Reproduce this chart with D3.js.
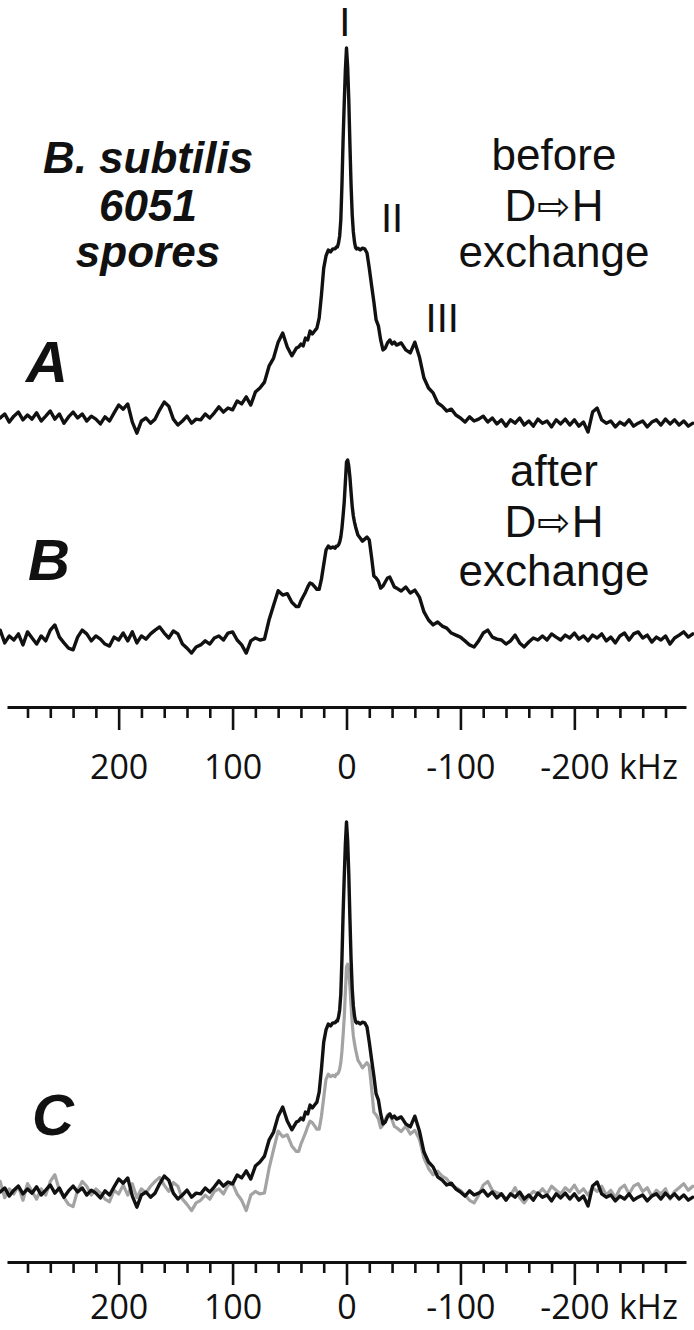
<!DOCTYPE html>
<html><head><meta charset="utf-8">
<script src="https://cdn.jsdelivr.net/npm/d3@7"></script>
<style>html,body{margin:0;padding:0;background:#fff;} svg{display:block;}</style>
</head><body>
<svg id="chart" width="694" height="1330"></svg>
<script>
// ---- data (kHz sampling positions and intensities) ----
const freq = [304,300,296,292,288,284,280,276,272,268,264,260,256,252,248,244,240,236,232,228,
  224,220,216,212,208,204,200,196,192,188,184,180,176,172,168,164,160,156,152,148,
  144,140,136,132,128,124,120,116,112,108,104,100,96,92,88,84,80,76,72,68,
  64,60,56,52,48,44,
  42,40,38,36,34,32,30,28,26,24,22,20,18,16,14,12,
  10,9,8,7,6,5,4,3,2,1,0,-1,-2,-3,-4,-5,-6,-7,-8,-9,-10,
  -12,-14,-16,-18,-20,-22,-24,-26,-28,-30,-32,-34,-36,-38,-40,-42,
  -44,-48,-52,-56,-60,-64,-68,-72,-76,-80,-84,-88,-92,-96,-100,-104,-108,-112,-116,-120,
  -124,-128,-132,-136,-140,-144,-148,-152,-156,-160,-164,-168,-172,-176,-180,-184,-188,-192,-196,-200,
  -204,-208,-212,-216,-220,-224,-228,-232,-236,-240,-244,-248,-252,-256,-260,-264,-268,-272,-276,-280,
  -284,-288,-292,-296,-300,-304];

// spectrum before D->H exchange (peak I = 100)
const intBefore = [0,1.1,-1.1,0.5,1.6,-0.5,0.8,-0.3,1.4,-0.8,0.5,1.9,-0.3,1.1,-1.4,0.3,1.6,0,1.1,-0.8,
  0.5,-0.3,-1.6,0.3,-0.8,1.4,3.5,2.4,3.8,-1.1,-4.1,-0.8,0,-1.4,-0.3,2.2,4.3,3.2,-0.3,-1.9,
  -0.8,0.5,-1.4,-0.3,-0.5,1.1,0,1.4,3,1.6,2.7,2.2,4.6,3.8,5.7,3.5,7,8.1,9.7,14,
  16.2,20.5,23,19.2,16.8,18.9,
  19.2,20,19.5,21.6,21.1,23.5,22.7,23.5,24.3,27,33.2,40.5,43.8,45.4,44.9,45.7,
  45.7,46.2,46.2,47.3,49.2,53.5,63,75,85,94,100,95,86,74,63,55,50.3,47.6,46,45.7,45.9,
  45.4,45.9,45.7,44.6,40.5,35.9,31.4,26.5,24.9,21.1,18.4,18.9,20.3,21.1,20,20.5,
  19.7,20.3,18.4,17.6,20.5,16.5,10.8,8.1,6.8,4.1,3.2,1.9,2.4,0.8,0,-1.1,0.3,-0.8,-0.3,0.5,
  -1.1,0,-1.6,-0.5,-2.2,-0.5,-1.4,0,-1.9,-0.8,-2.2,-0.3,-1.4,-0.8,-2.4,-0.5,-1.6,-0.3,-1.9,-0.5,
  -2.2,-1.1,-3.8,1.6,2.7,-0.5,-1.4,-0.8,-2.4,-1.1,-1.9,-0.5,-2.2,-1.4,-0.8,-2.4,-1.1,-0.5,-1.9,-0.3,
  -1.6,-0.5,-1.9,-0.8,-2.2,-1.4];

// spectrum after D->H exchange (same units)
const intAfter = [3.4,-1,1.4,0,2.1,-1.7,2.8,0.7,-1.4,1.4,-0.3,3.4,5.2,1,-1,-2.8,-3.4,1,3.4,2.1,
  -0.3,1.4,0.3,-1.4,-2.1,1,0,2.4,-0.3,2.8,-1,1.4,0.3,2.1,3.4,4.5,2.4,0.7,3.1,2.1,
  -1.4,-2.8,-4.5,-2.4,-1.7,-0.3,-1.4,0.7,1.4,0,2.4,2.8,0,-1.7,-4.5,-0.3,0.7,0,0.3,6.9,
  12,17,15.5,16,13,11.5,
  11.5,13.5,15,16.5,18.3,19.7,19.3,18.4,17.5,17.5,21,26,31,32.4,31.7,32.1,
  31.7,32.4,32.4,32.8,33.8,35.5,38.6,42.8,47.6,54.5,61.4,62.1,60,56.2,51,46.2,42.8,40.7,39,37.6,36.2,
  35.2,34.1,34.8,35.5,34.5,28.6,22.1,21.4,20.3,17.9,18.6,20,21.4,21.7,20,18.3,
  17.9,16.9,18.3,16.2,17.2,14.8,9.7,6.9,5.2,6.2,4.8,4.1,2.4,1.7,1,-0.3,-1.7,-2.4,-0.3,2.4,
  3.4,1,0.3,0,-1.4,-0.3,1.7,-1,-2.4,-0.7,0.7,0,1.4,0,2.1,1,0,1.7,0.7,2.4,
  0.3,1.4,-0.3,1.7,0.7,2.1,-0.3,1,-1,1.4,2.4,0,2.1,2.8,0.7,1.7,-0.7,1,0,1.4,
  -1.4,0.7,1.7,2.8,1,2.1];

const tickValues = [280,260,240,220,200,180,160,140,120,100,80,60,40,20,0,-20,-40,-60,-80,-100,-120,-140,-160,-180,-200,-220,-240,-260,-280];
const majorTicks = [200,100,0,-100,-200];
const axisUnit = "kHz";
const peakLabels = [{t:"I", f:1.5}, {t:"II", f:-40}, {t:"III", f:-84}];
const titleLines = ["B. subtilis","6051","spores"];
const beforeLines = ["before","D","H","exchange"];
const afterLines = ["after","D","H","exchange"];
const arrowGlyph = "\u21E8";
const panelLabels = ["A","B","C"];

// ---- layout ----
const svg = d3.select("#chart");
const x = d3.scaleLinear().domain([298,-298]).range([7,686]);
const yA = d3.scaleLinear().domain([0,100]).range([418,48]);
const yB = d3.scaleLinear().domain([0,62.1]).range([640,460]);
const yC1 = d3.scaleLinear().domain([0,100]).range([1192,822]);
const yC2 = d3.scaleLinear().domain([0,100]).range([1194,824]);

const pts = arr => freq.map((f,i)=>[f, arr[i]]);
function drawLine(data, yScale, color, width){
  const line = d3.line().x(d=>x(d[0])).y(d=>yScale(d[1])).curve(d3.curveLinear);
  svg.append("path").datum(data).attr("d", line)
    .attr("fill","none").attr("stroke",color).attr("stroke-width",width)
    .attr("stroke-linejoin","round").attr("stroke-linecap","round");
}

drawLine(pts(intBefore), yA, "#111", 3.4);
drawLine(pts(intAfter), yB, "#111", 3.4);
drawLine(pts(intAfter), yC2, "#a3a3a3", 3.2);
drawLine(pts(intBefore), yC1, "#111", 3.4);

// axes
function drawAxis(yPos, labelOff){
  const minorLen = 11, majorLen = 23;
  const font = "'Open Sans', sans-serif";
  const g = svg.append("g").attr("transform",`translate(0,${yPos})`)
    .call(d3.axisBottom(x).tickValues(tickValues).tickSize(minorLen).tickSizeOuter(0)
      .tickFormat(d => majorTicks.includes(d) ? String(d) : ""));
  g.select(".domain").attr("stroke","#111").attr("stroke-width",3);
  g.selectAll(".tick line").attr("stroke","#111").attr("stroke-width",2.6)
    .attr("y2", d => majorTicks.includes(d) ? majorLen : minorLen);
  g.selectAll(".tick text").attr("y", labelOff).attr("dy", null)
    .attr("font-size", 34).attr("font-family",font).attr("fill","#111");
  g.append("text").text(axisUnit).attr("x", 619).attr("y", labelOff)
    .attr("text-anchor","start")
    .attr("font-size", 34).attr("font-family",font).attr("fill","#111");
}
drawAxis(707, 72);
drawAxis(1262, 57);

// peak labels
peakLabels.forEach((p,i)=>{
  const yy = [36, 232, 332][i];
  svg.append("text").text(p.t).attr("x", x(p.f)).attr("y", yy)
    .attr("text-anchor","middle").attr("font-family","'Liberation Sans', Arial, sans-serif")
    .attr("font-size", 40).attr("fill","#111");
});

// title
titleLines.forEach((t,i)=>{
  svg.append("text").text(t).attr("x",148).attr("y",[173,221,267][i])
    .attr("text-anchor","middle").attr("font-family","'Liberation Sans', Arial, sans-serif")
    .attr("font-size",44).attr("font-weight","bold").attr("font-style","italic").attr("fill","#111");
});

// before / after text blocks
function block(lines, cx, ys){
  const font = "'Liberation Sans', Arial, sans-serif";
  svg.append("text").text(lines[0]).attr("x",cx).attr("y",ys[0]).attr("text-anchor","middle")
    .attr("font-family",font).attr("font-size",44).attr("fill","#111");
  const t = svg.append("text").attr("x",cx).attr("y",ys[1]).attr("text-anchor","middle")
    .attr("font-family",font).attr("font-size",44).attr("fill","#111");
  t.append("tspan").text(lines[1]);
  t.append("tspan").text(arrowGlyph).attr("font-family","'DejaVu Sans', sans-serif").attr("font-size",40).attr("dx",1).attr("dy",-1);
  t.append("tspan").text(lines[2]).attr("dx",1).attr("dy",1);
  svg.append("text").text(lines[3]).attr("x",cx).attr("y",ys[2]).attr("text-anchor","middle")
    .attr("font-family",font).attr("font-size",44).attr("fill","#111");
}
block(beforeLines, 554, [170,221,267]);
block(afterLines, 554, [486,537,586]);

// panel letters
panelLabels.forEach((t,i)=>{
  svg.append("text").text(t).attr("x",[26,28,32][i]).attr("y",[382,580,1135][i])
    .attr("font-family","'Liberation Sans', Arial, sans-serif").attr("font-size",58)
    .attr("font-weight","bold").attr("font-style","italic").attr("fill","#111");
});
</script>
</body></html>
